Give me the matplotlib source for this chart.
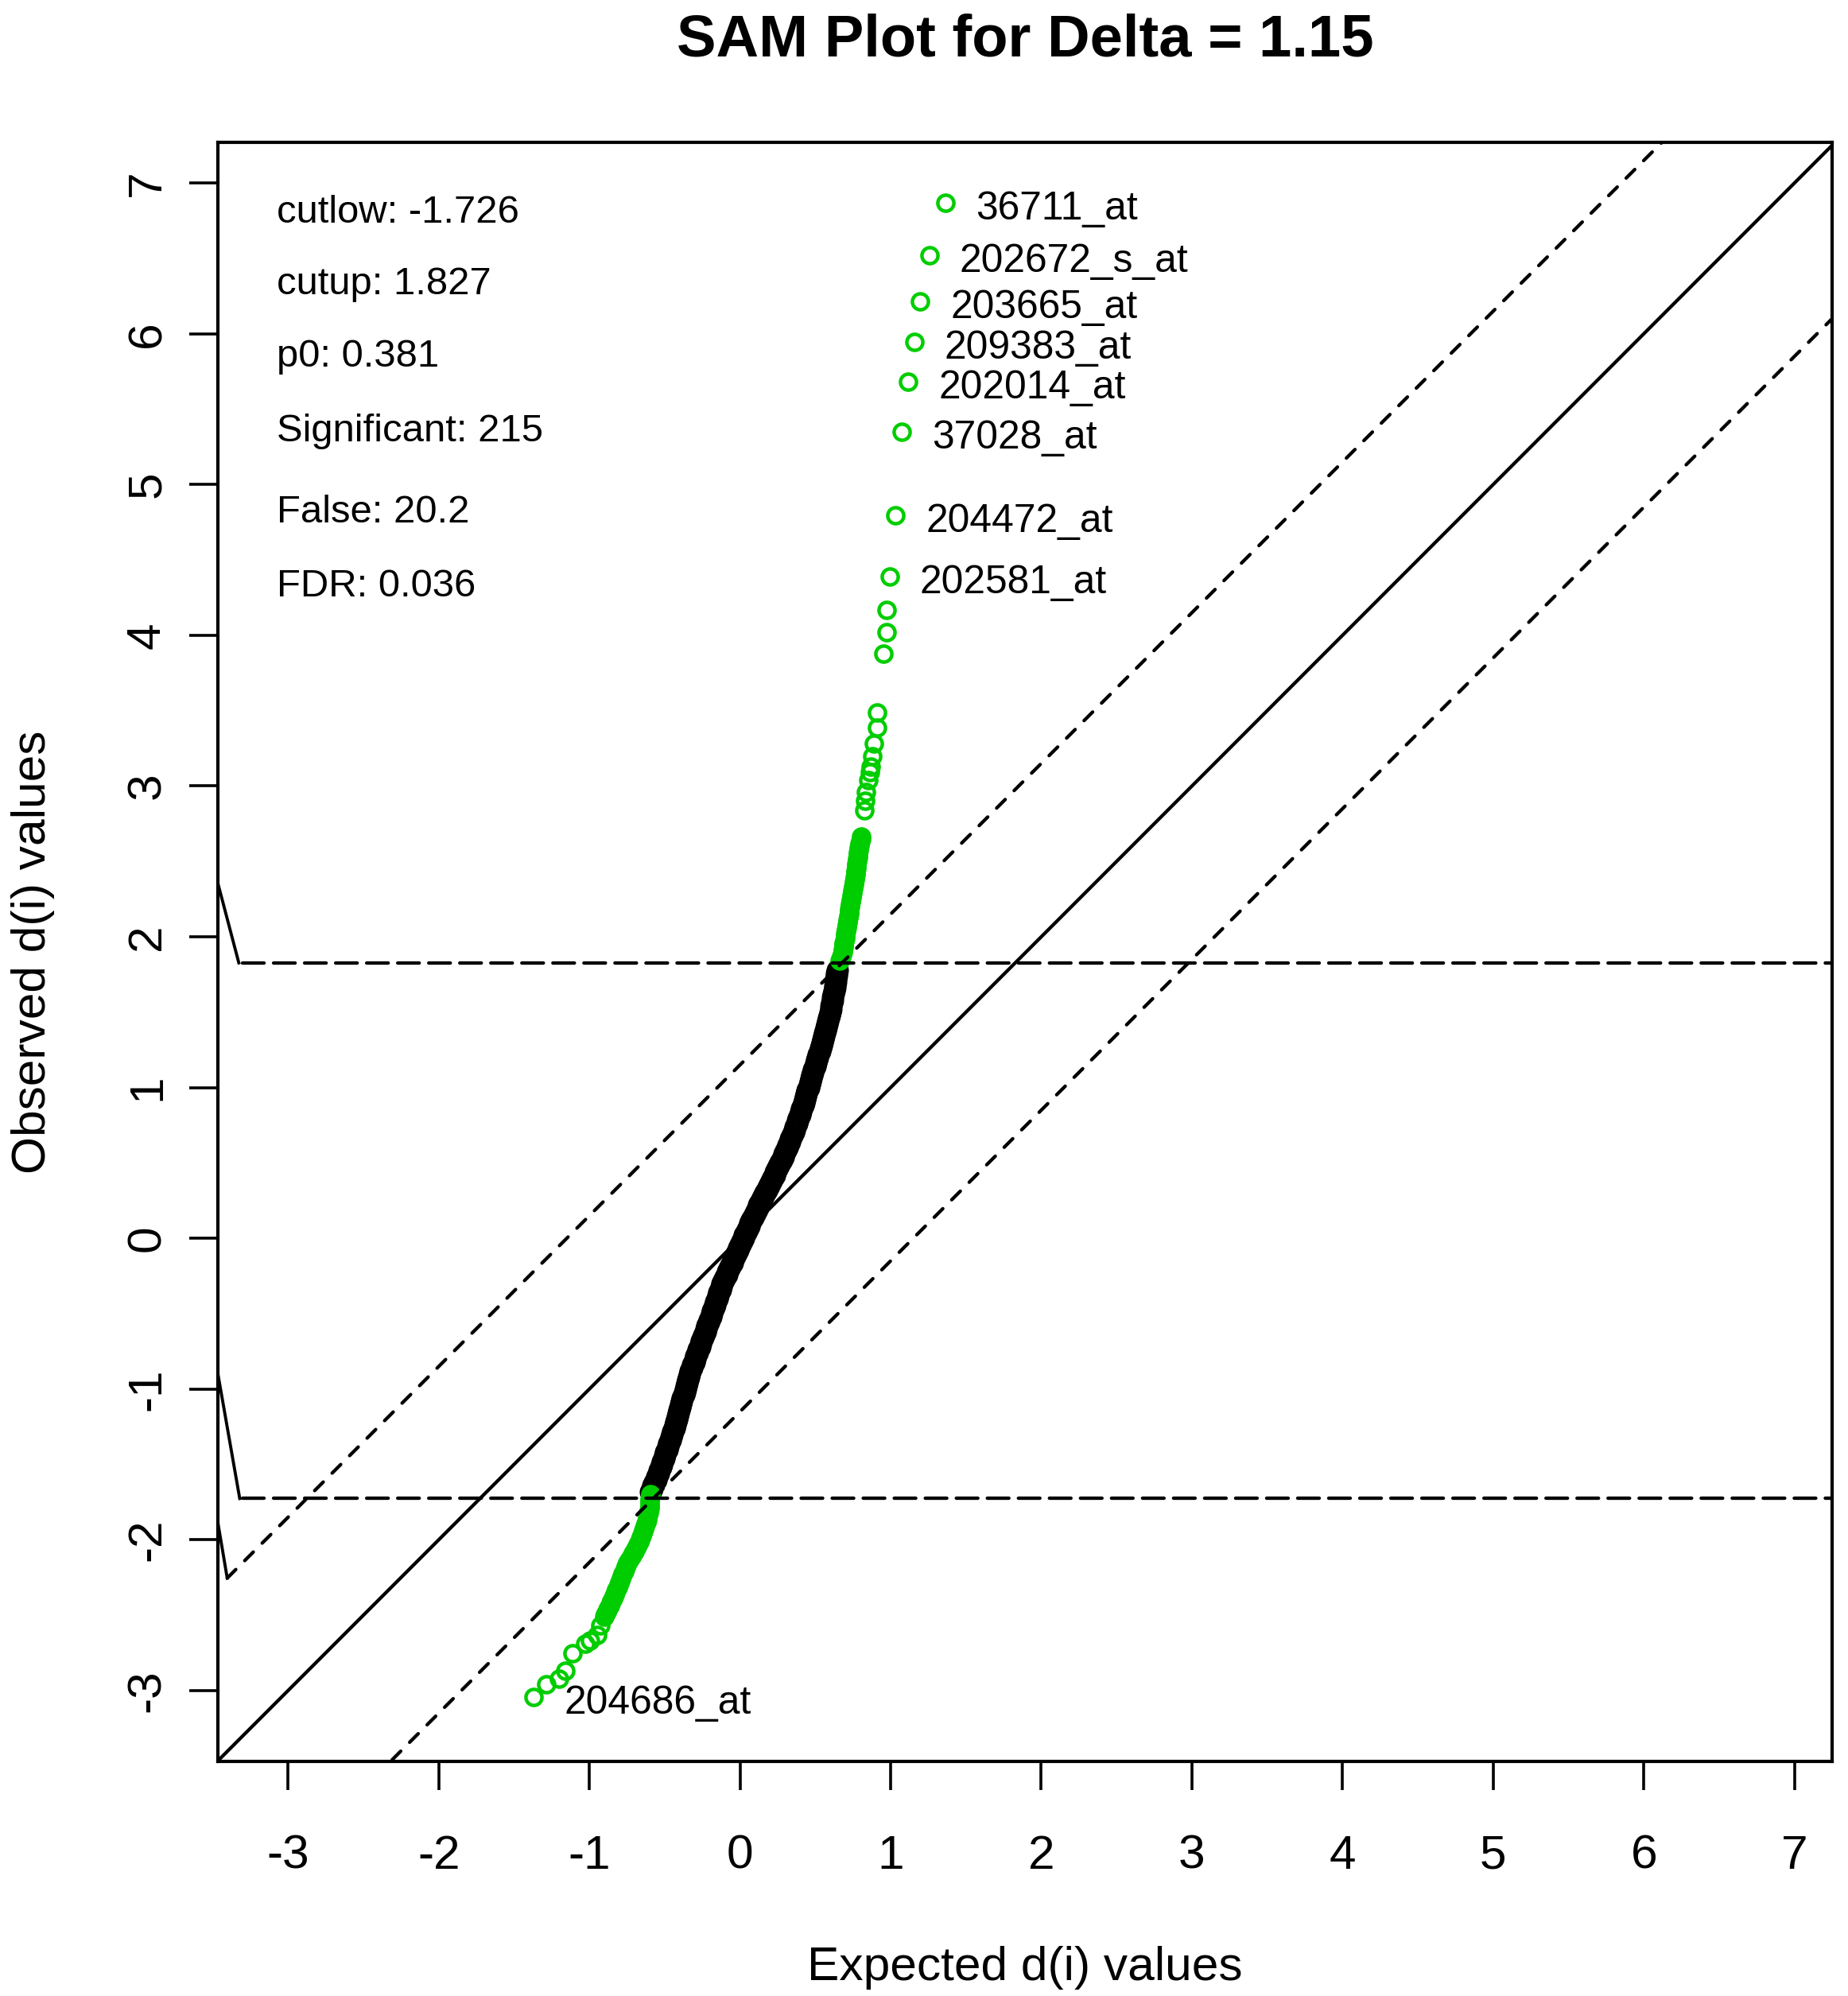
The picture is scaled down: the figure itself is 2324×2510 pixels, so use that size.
import matplotlib
matplotlib.use("Agg")
import matplotlib.pyplot as plt

# ---- data ----
delta = 1.15
cutlow = -1.726
cutup = 1.827

stat_names = ["cutlow", "cutup", "p0", "Significant", "False", "FDR"]
stat_values = ["-1.726", "1.827", "0.381", "215", "20.2", "0.036"]
stat_ypos = [6.739, 6.262, 5.782, 5.288, 4.748, 4.257]

# non-significant genes (black band)
black_observed = [
    -1.68, -1.66, -1.64, -1.62, -1.60, -1.58, -1.56, -1.54, -1.52, -1.50,
    -1.48, -1.46, -1.44, -1.42, -1.40, -1.38, -1.36, -1.34, -1.32, -1.30,
    -1.28, -1.26, -1.24, -1.22, -1.20, -1.18, -1.16, -1.14, -1.12, -1.10,
    -1.08, -1.06, -1.04, -1.02, -1.00, -0.98, -0.96, -0.94, -0.92, -0.90,
    -0.88, -0.86, -0.84, -0.82, -0.80, -0.78, -0.76, -0.74, -0.72, -0.70,
    -0.68, -0.66, -0.64, -0.62, -0.60, -0.58, -0.56, -0.54, -0.52, -0.50,
    -0.48, -0.46, -0.44, -0.42, -0.40, -0.38, -0.36, -0.34, -0.32, -0.30,
    -0.28, -0.26, -0.24, -0.22, -0.20, -0.18, -0.16, -0.14, -0.12, -0.10,
    -0.08, -0.06, -0.04, -0.02, 0.00, 0.02, 0.04, 0.06, 0.08, 0.10,
    0.12, 0.14, 0.16, 0.18, 0.20, 0.22, 0.24, 0.26, 0.28, 0.30,
    0.32, 0.34, 0.36, 0.38, 0.40, 0.42, 0.44, 0.46, 0.48, 0.50,
    0.52, 0.54, 0.56, 0.58, 0.60, 0.62, 0.64, 0.66, 0.68, 0.70,
    0.72, 0.74, 0.76, 0.78, 0.80, 0.82, 0.84, 0.86, 0.88, 0.90,
    0.92, 0.94, 0.96, 0.98, 1.00, 1.02, 1.04, 1.06, 1.08, 1.10,
    1.12, 1.14, 1.16, 1.18, 1.20, 1.22, 1.24, 1.26, 1.28, 1.30,
    1.32, 1.34, 1.36, 1.38, 1.40, 1.42, 1.44, 1.46, 1.48, 1.50,
    1.52, 1.54, 1.56, 1.58, 1.60, 1.62, 1.64, 1.66, 1.68, 1.70,
    1.72, 1.74, 1.76, 1.78,
]
black_expected = [
    -0.592, -0.584, -0.576, -0.568, -0.560, -0.552, -0.544, -0.536, -0.528, -0.520,
    -0.513, -0.506, -0.499, -0.492, -0.485, -0.478, -0.471, -0.464, -0.457, -0.450,
    -0.444, -0.438, -0.433, -0.427, -0.421, -0.415, -0.409, -0.404, -0.398, -0.392,
    -0.386, -0.381, -0.375, -0.369, -0.364, -0.358, -0.352, -0.346, -0.341, -0.335,
    -0.328, -0.321, -0.313, -0.306, -0.299, -0.291, -0.284, -0.277, -0.269, -0.262,
    -0.255, -0.247, -0.240, -0.232, -0.225, -0.218, -0.210, -0.203, -0.195, -0.188,
    -0.181, -0.174, -0.167, -0.160, -0.153, -0.146, -0.139, -0.132, -0.125, -0.118,
    -0.109, -0.099, -0.090, -0.081, -0.072, -0.062, -0.053, -0.044, -0.034, -0.025,
    -0.016, -0.006, 0.003, 0.012, 0.022, 0.031, 0.040, 0.049, 0.059, 0.068,
    0.078, 0.087, 0.097, 0.107, 0.117, 0.126, 0.136, 0.146, 0.155, 0.165,
    0.175, 0.186, 0.196, 0.206, 0.217, 0.227, 0.237, 0.247, 0.258, 0.268,
    0.277, 0.285, 0.294, 0.302, 0.311, 0.320, 0.328, 0.337, 0.345, 0.354,
    0.361, 0.368, 0.375, 0.382, 0.389, 0.396, 0.403, 0.410, 0.417, 0.424,
    0.430, 0.436, 0.442, 0.448, 0.454, 0.460, 0.466, 0.472, 0.478, 0.484,
    0.490, 0.497, 0.503, 0.510, 0.516, 0.522, 0.529, 0.535, 0.542, 0.548,
    0.553, 0.558, 0.563, 0.568, 0.573, 0.578, 0.583, 0.588, 0.593, 0.598,
    0.602, 0.606, 0.609, 0.613, 0.617, 0.621, 0.625, 0.628, 0.632, 0.636,
    0.638, 0.641, 0.643, 0.646,
]

# significant genes, upper tail (unlabelled)
up_observed = [
    1.840, 1.855, 1.870, 1.885, 1.900, 1.915, 1.930, 1.945, 1.960, 1.975,
    1.990, 2.005, 2.020, 2.035, 2.050, 2.065, 2.080, 2.095, 2.110, 2.125,
    2.140, 2.155, 2.170, 2.185, 2.200, 2.215, 2.230, 2.245, 2.260, 2.275,
    2.290, 2.305, 2.320, 2.335, 2.350, 2.365, 2.380, 2.395, 2.410, 2.425,
    2.440, 2.455, 2.470, 2.485, 2.500, 2.515, 2.530, 2.545, 2.560, 2.575,
    2.590, 2.605, 2.620, 2.635, 2.650, 2.665,
    2.84, 2.90, 2.96, 3.04, 3.09, 3.13, 3.20, 3.28, 3.39, 3.49,
    3.88, 4.02, 4.17,
]
up_expected = [
    0.664, 0.667, 0.673, 0.678, 0.681, 0.684, 0.686, 0.689, 0.691, 0.694,
    0.697, 0.699, 0.701, 0.704, 0.706, 0.708, 0.710, 0.713, 0.716, 0.718,
    0.721, 0.723, 0.726, 0.728, 0.731, 0.733, 0.736, 0.738, 0.741, 0.743,
    0.746, 0.748, 0.751, 0.753, 0.756, 0.758, 0.760, 0.763, 0.765, 0.767,
    0.769, 0.771, 0.773, 0.775, 0.777, 0.779, 0.781, 0.783, 0.785, 0.787,
    0.789, 0.792, 0.795, 0.798, 0.802, 0.806,
    0.828, 0.832, 0.838, 0.851, 0.860, 0.869, 0.881, 0.891, 0.909, 0.909,
    0.953, 0.974, 0.974,
]

# significant genes, lower tail (unlabelled)
low_observed = [
    -1.700, -1.715, -1.730, -1.745, -1.760, -1.775, -1.790, -1.805, -1.820, -1.835,
    -1.850, -1.865, -1.880, -1.895, -1.910, -1.925, -1.940, -1.955, -1.970, -1.985,
    -2.000, -2.015, -2.030, -2.045, -2.060, -2.075, -2.090, -2.105, -2.120, -2.135,
    -2.150, -2.165, -2.180, -2.195, -2.210, -2.225, -2.240, -2.255, -2.270, -2.285,
    -2.300, -2.315, -2.330, -2.345, -2.360, -2.375, -2.390, -2.405, -2.420, -2.435,
    -2.450, -2.465, -2.480, -2.495, -2.510,
    -2.57, -2.63, -2.67, -2.69, -2.75, -2.87, -2.92, -2.96,
]
low_expected = [
    -0.595, -0.596, -0.598, -0.599, -0.600, -0.601, -0.602, -0.604, -0.606, -0.610,
    -0.614, -0.618, -0.623, -0.628, -0.633, -0.638, -0.643, -0.647, -0.652, -0.657,
    -0.662, -0.669, -0.677, -0.685, -0.693, -0.701, -0.710, -0.718, -0.727, -0.736,
    -0.745, -0.752, -0.759, -0.765, -0.771, -0.777, -0.783, -0.789, -0.795, -0.801,
    -0.807, -0.813, -0.820, -0.826, -0.832, -0.838, -0.845, -0.851, -0.858, -0.865,
    -0.872, -0.879, -0.886, -0.893, -0.900,
    -0.925, -0.946, -0.997, -1.025, -1.113, -1.157, -1.200, -1.286,
]

# labelled genes
gene_names = ["36711_at", "202672_s_at", "203665_at", "209383_at", "202014_at",
              "37028_at", "204472_at", "202581_at", "204686_at"]
gene_expected = [1.363, 1.258, 1.197, 1.157, 1.117, 1.074, 1.034, 0.995, -1.368]
gene_observed = [6.870, 6.521, 6.214, 5.948, 5.681, 5.352, 4.796, 4.389, -3.041]

# short stubs at the left edge: (start y at left border, end x, end y)
stub_start_y = [2.37, -0.876, -1.863]
stub_end_x = [-3.327, -3.321, -3.404]
stub_end_y = [1.827, -1.726, -2.254]

lims = (-3.47, 7.27)

# ---- drawing ----
plt.rcParams["font.family"] = ["Liberation Sans", "DejaVu Sans"]
plt.rcParams["lines.scale_dashes"] = False
plt.rcParams["axes.unicode_minus"] = False

W, H = 2324, 2510
fig = plt.figure(figsize=(W / 100, H / 100), dpi=100)
ax = fig.add_axes([274 / W, 1 - 2215 / H, 2030 / W, 2036 / H])

green = "#00CD00"
mk = dict(linestyle="none", marker="o", mfc="none", zorder=2)
ax.plot(black_expected, black_observed, mec="black", ms=17, mew=3.2, **mk)
ax.plot(up_expected, up_observed, mec=green, ms=14.5, mew=3.2, **mk)
ax.plot(low_expected, low_observed, mec=green, ms=14.5, mew=3.2, **mk)
ax.plot(gene_expected, gene_observed, mec=green, ms=14.5, mew=3.2, **mk)

lw = 3.1
diag_dash = (0, (11.0, 11.4))
long_dash = (0, (19.5, 8.6))
ax.plot(lims, lims, color="black", lw=lw, zorder=3)
ax.plot([stub_end_x[2], lims[1]], [stub_end_x[2] + delta, lims[1] + delta],
        color="black", lw=lw, linestyle=diag_dash, dash_capstyle="round", zorder=3)
ax.plot([lims[0], lims[1]], [lims[0] - delta, lims[1] - delta],
        color="black", lw=lw, linestyle=diag_dash, dash_capstyle="round", zorder=3)
for c in [cutup, cutlow]:
    ax.plot([-3.30, lims[1]], [c, c], color="black", lw=lw,
            linestyle=long_dash, dash_capstyle="round", zorder=3)
for y0, x1, y1 in zip(stub_start_y, stub_end_x, stub_end_y):
    ax.plot([lims[0], x1], [y0, y1], color="black", lw=lw * 0.9, zorder=3)

for name, val, yp in zip(stat_names, stat_values, stat_ypos):
    ax.text(-3.078, yp, name + ": " + val, fontsize=35.3, va="baseline", ha="left")

for name, gx, gy in zip(gene_names, gene_expected, gene_observed):
    ax.text(gx + 0.2, gy - 0.111, name, fontsize=35.8, va="baseline", ha="left")

ax.set_xlim(lims[0] + 0.004, 7.25)
ax.set_ylim(lims)
ax.set_xticks(range(-3, 8))
ax.set_yticks(range(-3, 8))
ax.tick_params(axis="both", direction="out", length=25.9, width=2.6,
               labelsize=43.5)
ax.tick_params(axis="x", pad=40)
ax.tick_params(axis="y", pad=18)
for lab in ax.get_yticklabels():
    lab.set_rotation(90)
    lab.set_va("center")
for s in ax.spines.values():
    s.set_linewidth(3.0)

fig.text(1289 / W, 1 - 70.7 / H, "SAM Plot for Delta = 1.15", ha="center",
         va="baseline", fontsize=53.5, fontweight="bold")
fig.text(1289 / W, 1 - 2490 / H, "Expected d(i) values", ha="center",
         va="baseline", fontsize=43.5)
fig.text(57 / W, 1 - 1197 / H, "Observed d(i) values", ha="center",
         va="baseline", rotation=90, rotation_mode="anchor", fontsize=43.5)

fig.savefig("out.png", dpi=100)
